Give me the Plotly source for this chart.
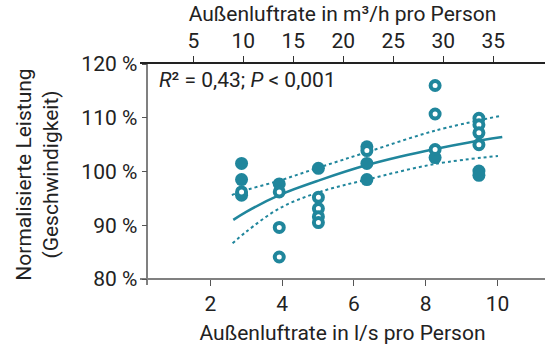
import plotly.graph_objects as go

# ---- data ----
filled_x = [2.87, 2.87, 2.87, 3.92, 5.01, 6.36, 6.36, 6.36, 8.26, 9.48, 9.48]
filled_y = [101.5, 98.5, 95.6, 97.7, 100.6, 104.6, 101.5, 98.5, 102.6, 100.1, 99.3]

open_x = [2.87, 3.92, 3.92, 3.92, 5.01, 5.01, 5.01, 5.01, 6.36, 8.26, 8.26, 8.26, 9.48, 9.48, 9.48, 9.48]
open_y = [96.2, 96.2, 89.6, 84.1, 95.2, 93.1, 91.6, 90.5, 103.9, 116.0, 110.7, 104.1, 109.9, 108.7, 107.2, 105.0]

fit_x = [2.64, 3.0, 3.92, 5.05, 6.36, 7.3, 8.26, 9.2, 10.13]
fit_y = [91.0, 92.5, 95.6, 98.4, 101.2, 102.8, 104.2, 105.4, 106.4]

upper_x = [2.6, 2.87, 3.92, 5.05, 6.36, 8.26, 10.04]
upper_y = [95.6, 96.3, 98.3, 100.8, 103.6, 107.6, 110.3]

lower_x = [2.62, 3.0, 3.94, 5.05, 6.36, 8.26, 10.01]
lower_y = [86.65, 88.8, 93.2, 96.2, 98.5, 101.4, 102.9]

y_ticks = [80, 90, 100, 110, 120]
y_ticktext = ["80 %", "90 %", "100 %", "110 %", "120 %"]
x_ticks = [2, 4, 6, 8, 10]
x2_ticks = [5, 10, 15, 20, 25, 30, 35]

TEAL = "#20869c"
FONT = "Roboto"
FS = 21

fig = go.Figure()

fig.add_trace(go.Scatter(x=upper_x, y=upper_y, mode="lines", line=dict(color=TEAL, width=2, dash="dot", shape="spline"), hoverinfo="skip"))
fig.add_trace(go.Scatter(x=lower_x, y=lower_y, mode="lines", line=dict(color=TEAL, width=2, dash="dot", shape="spline"), hoverinfo="skip"))
fig.add_trace(go.Scatter(x=fit_x, y=fit_y, mode="lines", line=dict(color=TEAL, width=2.5, shape="spline"), hoverinfo="skip"))
fig.add_trace(go.Scatter(x=filled_x, y=filled_y, mode="markers",
                         marker=dict(size=13, color=TEAL, line=dict(width=0))))
fig.add_trace(go.Scatter(x=open_x, y=open_y, mode="markers",
                         marker=dict(size=9, color="white", line=dict(width=4, color=TEAL))))
# invisible trace to activate top axis
fig.add_trace(go.Scatter(x=[x2_ticks[0]], y=[100], xaxis="x2", mode="markers",
                         marker=dict(opacity=0), hoverinfo="skip"))

fig.update_layout(
    width=545, height=347,
    margin=dict(l=140, r=0, t=63.5, b=62),
    paper_bgcolor="white", plot_bgcolor="white",
    showlegend=False,
    font=dict(family=FONT, size=FS, color="#222"),
    xaxis=dict(range=[0.042, 11.32], tickvals=x_ticks, anchor="free", position=0.0271,
               showline=True, linecolor="#808080", linewidth=1.5,
               ticks="outside", ticklen=6, tickcolor="#555", tickwidth=1.2,
               showgrid=False, zeroline=False,
               title=dict(text="Außenluftrate in l/s pro Person", standoff=9, font=dict(size=FS)),
               tickfont=dict(size=FS)),
    xaxis2=dict(range=[-0.33, 40.17], tickvals=x2_ticks, overlaying="x", side="top", anchor="y",
                showline=True, linecolor="#222", linewidth=1.5,
                ticks="outside", ticklen=6, tickcolor="#333", tickwidth=1.2,
                showgrid=False, zeroline=False,
                title=dict(text="Außenluftrate in m³/h pro Person", standoff=1, font=dict(size=FS)),
                tickfont=dict(size=FS)),
    yaxis=dict(range=[78.89, 120], tickvals=y_ticks, ticktext=y_ticktext, anchor="free", position=0.018,
               showline=True, linecolor="#808080", linewidth=1.5,
               ticks="outside", ticklen=5, tickcolor="#555", tickwidth=1.2,
               showgrid=False, zeroline=False,
               title=dict(text="Normalisierte Leistung<br>(Geschwindigkeit)", standoff=16, font=dict(size=FS)),
               tickfont=dict(size=FS)),
    annotations=[dict(text="<i>R</i>² = 0,43; <i>P</i> &lt; 0,001", xref="paper", yref="paper",
                      x=0.042, y=0.9255, xanchor="left", yanchor="middle", showarrow=False,
                      font=dict(size=FS, family=FONT, color="#222"))],
)

fig.write_html("out.html")
